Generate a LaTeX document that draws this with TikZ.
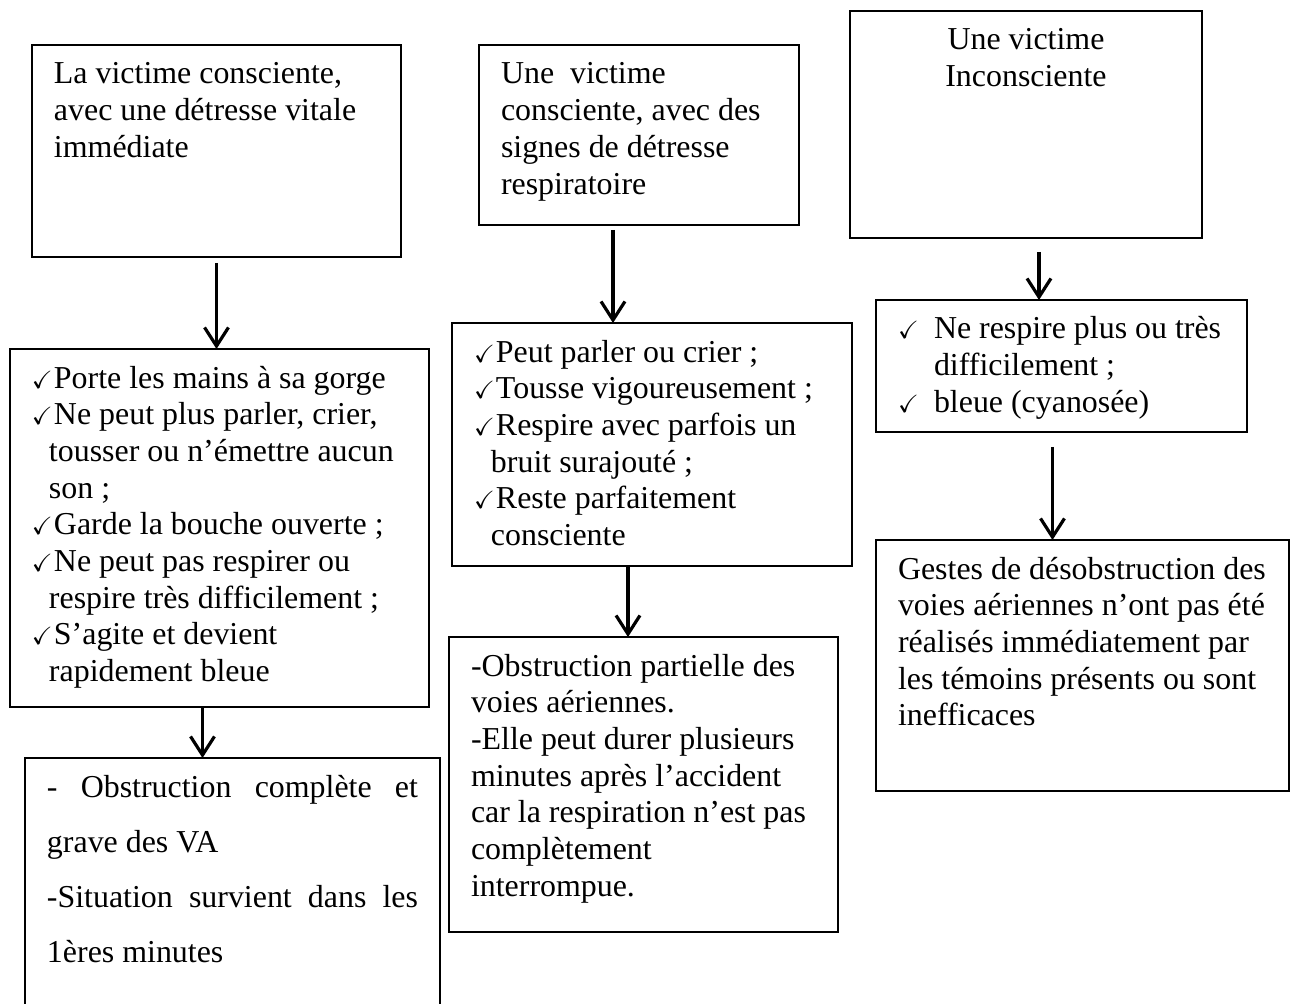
\documentclass[tikz,border=0pt]{standalone}
\usepackage{fontspec}
\setmainfont{Liberation Serif}
\usepackage{amssymb}
\usepackage{graphicx}
\usepackage{tikz}
\usetikzlibrary{positioning}
\usetikzlibrary{arrows.meta}
\newdimen\px
\px=0.376pt
\newcommand{\boite}[3]{\parbox[c][#2\px][t]{#1\px}{\leftskip=22\px\rightskip=0pt plus 1fil\rule{0pt}{39\px}#3}}
\newcommand{\coche}[1][22]{\makebox[#1\px][l]{\scalebox{0.78}{$\checkmark$}}}
\newcommand{\suite}[1][17]{\hspace*{#1\px}}
\newcommand{\ligne}[1]{\makebox[371\px][s]{#1}}
\tikzset{
  cadre/.style={draw,line width=0.7pt,inner sep=0pt,outer sep=0pt,anchor=north west},
  fleche/.style={-{Straight Barb[length=7pt,width=9pt]},line width=1.2pt}
}

\begin{document}
\begin{tikzpicture}[x=\px,y=-\px,font=\fontsize{12pt}{13.8pt}\selectfont]
\useasboundingbox (0,0) rectangle (1292,1004);

%first row: the three victims
\node (a1) at (32,45) [cadre] {\boite{369}{212}{La victime consciente,\\ avec une détresse vitale\\ immédiate}};
\node (b1) at (479,45) [cadre] {\boite{320}{180}{Une~~victime\\ consciente, avec des\\ signes de détresse\\ respiratoire}};
\node (c1) at (850,11) [cadre] {\boite{352}{227}{\centering Une victime\\ Inconsciente}};

%signs
\node (a2) at (10,349) [cadre] {\boite{419}{358}{\coche Porte les mains à sa gorge\\
  \coche Ne peut plus parler, crier,\\ \suite tousser ou n’émettre aucun\\ \suite son ;\\
  \coche Garde la bouche ouverte ;\\
  \coche Ne peut pas respirer ou\\ \suite respire très difficilement ;\\
  \coche S’agite et devient\\ \suite rapidement bleue}};
\node (b2) at (452,323) [cadre] {\boite{400}{243}{\coche Peut parler ou crier ;\\
  \coche Tousse vigoureusement ;\\
  \coche Respire avec parfois un\\ \suite bruit surajouté ;\\
  \coche Reste parfaitement\\ \suite consciente}};
\node (c2) at (876,300) [cadre] {\boite{371}{132}{\coche[36]Ne respire plus ou très\\ \suite[36]difficilement ;\\
  \coche[36]bleue (cyanosée)}};

%what it means
\node (a3) at (25,758) [cadre] {\boite{415}{262}{\baselineskip=20.7pt
  \ligne{- Obstruction complète et}\\ grave des VA\\
  \ligne{-Situation survient dans les}\\ 1ères minutes}};
\node (b3) at (449,637) [cadre] {\boite{389}{295}{-Obstruction partielle des\\ voies aériennes.\\
  -Elle peut durer plusieurs\\ minutes après l’accident\\ car la respiration n’est pas\\ complètement\\ interrompue.}};
\node (c3) at (876,540) [cadre] {\boite{413}{251}{Gestes de désobstruction des\\ voies aériennes n’ont pas été\\
  réalisés immédiatement par\\ les témoins présents ou sont\\ inefficaces}};

%arrows
\coordinate (p1) at ([yshift=-6\px]a1.south);
\coordinate (p2) at ([xshift=-17\px]a2.south);
\coordinate (q1) at ([xshift=-26\px,yshift=-5\px]b1.south);
\coordinate (q2) at ([xshift=-24\px]b2.south);
\coordinate (r1) at ([xshift=13\px,yshift=-14\px]c1.south);
\coordinate (r2) at ([xshift=-9\px,yshift=-15\px]c2.south);
\draw [fleche] (p1) -- (p1 |- a2.north);
\draw [fleche] (p2) -- (p2 |- a3.north);
\draw [fleche] (q1) -- (q1 |- b2.north);
\draw [fleche] (q2) -- (q2 |- b3.north);
\draw [fleche] (r1) -- (r1 |- c2.north);
\draw [fleche] (r2) -- (r2 |- c3.north);
\end{tikzpicture}
\end{document}
